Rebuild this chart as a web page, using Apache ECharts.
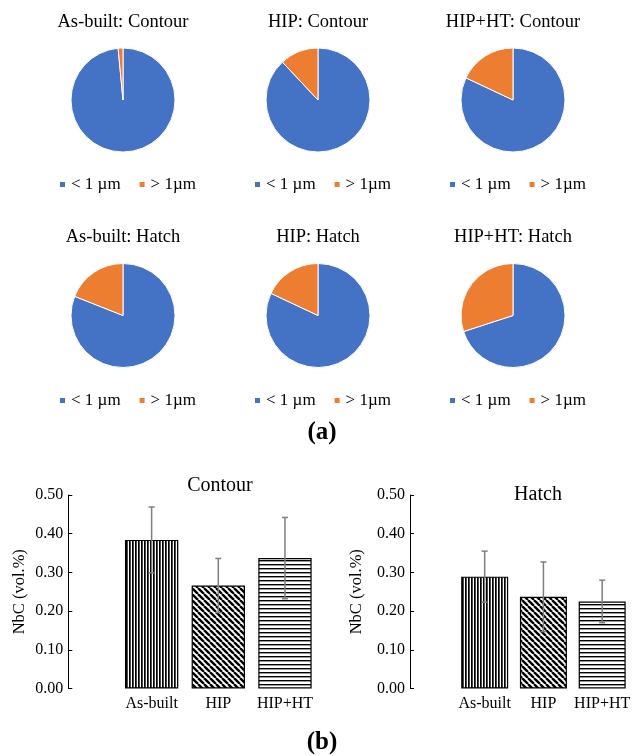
<!DOCTYPE html>
<html>
<head>
<meta charset="utf-8">
<script src="https://cdn.jsdelivr.net/npm/echarts@6/dist/echarts.min.js"></script>
<style>
  html, body { margin: 0; padding: 0; background: #fff; }
  #chart { width: 633px; height: 756px; }
</style>
</head>
<body>
<div id="chart"></div>
<script>
  // pie charts: share of NbC particles by size class (%)
  const pieTitles = ['As-built: Contour', 'HIP: Contour', 'HIP+HT: Contour', 'As-built: Hatch', 'HIP: Hatch', 'HIP+HT: Hatch']
  const sizeClasses = ['< 1 µm', '> 1µm']
  const fineShare = [98.5, 88, 82, 81, 82, 70]
  const coarseShare = [1.5, 12, 18, 19, 18, 30]

  // bar charts: NbC volume fraction
  const conditions = ['As-built', 'HIP', 'HIP+HT']
  const contourNbC = [0.384, 0.266, 0.337]
  const contourErr = [0.085, 0.07, 0.105]
  const hatchNbC = [0.289, 0.237, 0.225]
  const hatchErr = [0.066, 0.09, 0.055]

  const SERIF = 'Liberation Serif'
  const BLUE = '#4472C4'
  const ORANGE = '#ED7D31'

  // small canvas tiles for the hatched bars
  function makePattern(kind) {
    let c = document.createElement('canvas')
    let ctx = c.getContext('2d')
    if (kind === 'vertical') {
      c.width = 3; c.height = 3
      ctx.fillStyle = '#fff'; ctx.fillRect(0, 0, 3, 3)
      ctx.fillStyle = '#000'; ctx.fillRect(0, 0, 1.7, 3)
    } else if (kind === 'horizontal') {
      c.width = 4; c.height = 4
      ctx.fillStyle = '#fff'; ctx.fillRect(0, 0, 4, 4)
      ctx.fillStyle = '#000'; ctx.fillRect(0, 0, 4, 1.4)
    } else {
      let s = 6
      c.width = s; c.height = s
      ctx.fillStyle = '#fff'; ctx.fillRect(0, 0, s, s)
      ctx.strokeStyle = '#000'; ctx.lineWidth = 2.4
      ctx.beginPath()
      for (let x0 of [-s, 0, s]) {
        ctx.moveTo(x0, 0); ctx.lineTo(x0 + s, s)
      }
      ctx.stroke()
    }
    return { image: c, repeat: 'repeat' }
  }
  const patterns = [makePattern('vertical'), makePattern('diagonal'), makePattern('horizontal')]

  const pieCentersX = [123, 318, 513]
  const pieCentersY = [100, 315.5]
  const pieTitleY = [13, 228]
  const legendY = [176, 392]

  let titles = []
  let legends = []
  let series = []

  pieTitles.forEach((name, i) => {
    let col = i % 3
    let row = Math.floor(i / 3)
    titles.push({
      text: name,
      left: pieCentersX[col],
      top: pieTitleY[row],
      textAlign: 'center',
      padding: 0,
      textStyle: { fontFamily: SERIF, fontSize: 18.5, fontWeight: 'normal', color: '#000' }
    })
    legends.push({
      data: sizeClasses,
      left: pieCentersX[col] - 63,
      top: legendY[row],
      padding: 0,
      icon: 'rect',
      itemWidth: 5,
      itemHeight: 5,
      itemGap: 19,
      itemStyle: { borderWidth: 0 },
      selectedMode: false,
      textStyle: { fontFamily: SERIF, fontSize: 17, color: '#000', padding: [0, 0, 0, 1] }
    })
    series.push({
      type: 'pie',
      name: name,
      center: [pieCentersX[col], pieCentersY[row]],
      radius: 52,
      startAngle: 90,
      clockwise: true,
      label: { show: false },
      labelLine: { show: false },
      emphasis: { disabled: true },
      itemStyle: { borderColor: '#fff', borderWidth: 1 },
      data: [
        { name: sizeClasses[0], value: fineShare[i], itemStyle: { color: BLUE } },
        { name: sizeClasses[1], value: coarseShare[i], itemStyle: { color: ORANGE } }
      ]
    })
  })

  titles.push({
    text: '(a)', left: 322, top: 420, textAlign: 'center', padding: 0,
    textStyle: { fontFamily: SERIF, fontSize: 25, fontWeight: 'bold', color: '#000' }
  })
  titles.push({
    text: '(b)', left: 322, top: 730, textAlign: 'center', padding: 0,
    textStyle: { fontFamily: SERIF, fontSize: 25, fontWeight: 'bold', color: '#000' }
  })
  titles.push({
    text: 'Contour', left: 220, top: 476, textAlign: 'center', padding: 0,
    textStyle: { fontFamily: SERIF, fontSize: 20, fontWeight: 'normal', color: '#000' }
  })
  titles.push({
    text: 'Hatch', left: 538, top: 485, textAlign: 'center', padding: 0,
    textStyle: { fontFamily: SERIF, fontSize: 20, fontWeight: 'normal', color: '#000' }
  })

  const grids = [
    { left: 118.3, top: 495, width: 200, height: 193.5 },
    { left: 455.3, top: 495, width: 177.7, height: 193.5 }
  ]

  function makeXAxis(idx) {
    return {
      type: 'category',
      gridIndex: idx,
      data: conditions,
      axisLine: { show: false },
      axisTick: { show: false },
      axisLabel: { interval: 0, hideOverlap: false, fontFamily: SERIF, fontSize: 16, color: '#000', margin: 7 }
    }
  }
  function makeYAxis(idx, offset, nameGap) {
    return {
      type: 'value',
      gridIndex: idx,
      min: 0,
      max: 0.5,
      interval: 0.1,
      offset: offset,
      name: 'NbC (vol.%)',
      nameLocation: 'middle',
      nameGap: nameGap,
      nameTextStyle: { fontFamily: SERIF, fontSize: 16.5, color: '#000' },
      splitLine: { show: false },
      axisLine: { show: true, lineStyle: { color: '#000', width: 1 } },
      axisTick: { show: true, inside: true, length: 4, lineStyle: { color: '#000' } },
      axisLabel: {
        fontFamily: SERIF, fontSize: 16, color: '#000', margin: 5,
        formatter: v => v.toFixed(2)
      }
    }
  }

  function barSeries(idx, values) {
    return {
      type: 'bar',
      xAxisIndex: idx,
      yAxisIndex: idx,
      barCategoryGap: '20%',
      data: values.map((v, i) => ({
        value: v,
        itemStyle: { color: patterns[i], borderColor: '#000', borderWidth: 1.2 }
      })),
      emphasis: { disabled: true }
    }
  }

  function errorSeries(idx, values, errs) {
    return {
      type: 'custom',
      xAxisIndex: idx,
      yAxisIndex: idx,
      z: 10,
      data: values.map((v, i) => [i, v - errs[i], v + errs[i]]),
      renderItem(params, api) {
        let lo = api.coord([api.value(0), api.value(1)])
        let hi = api.coord([api.value(0), api.value(2)])
        let style = { stroke: '#7f7f7f', lineWidth: 1.5 }
        return {
          type: 'group',
          children: [
            { type: 'line', shape: { x1: lo[0], y1: lo[1], x2: hi[0], y2: hi[1] }, style: style },
            { type: 'line', shape: { x1: lo[0] - 3, y1: lo[1], x2: lo[0] + 3, y2: lo[1] }, style: style },
            { type: 'line', shape: { x1: hi[0] - 3, y1: hi[1], x2: hi[0] + 3, y2: hi[1] }, style: style }
          ]
        }
      }
    }
  }

  series.push(barSeries(0, contourNbC))
  series.push(errorSeries(0, contourNbC, contourErr))
  series.push(barSeries(1, hatchNbC))
  series.push(errorSeries(1, hatchNbC, hatchErr))

  let myChart = echarts.init(document.getElementById('chart'))
  myChart.setOption({
    backgroundColor: '#fff',
    animation: false,
    title: titles,
    legend: legends,
    grid: grids,
    xAxis: [makeXAxis(0), makeXAxis(1)],
    yAxis: [makeYAxis(0, 50, 40), makeYAxis(1, 45.3, 45)],
    series: series
  })
</script>
</body>
</html>
